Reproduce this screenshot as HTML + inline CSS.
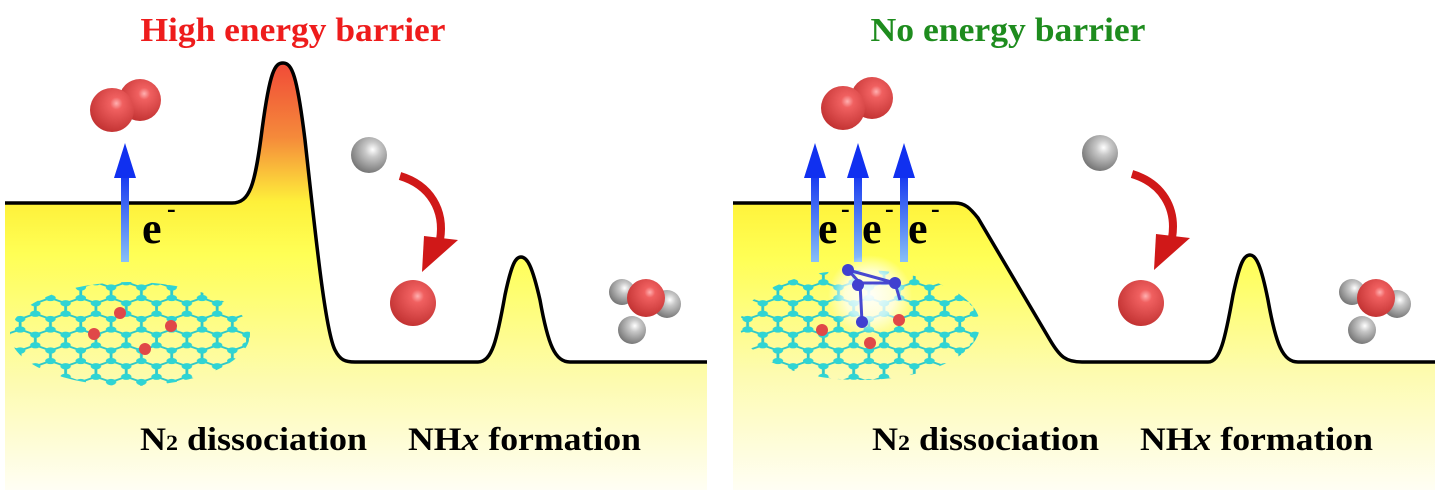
<!DOCTYPE html>
<html><head><meta charset="utf-8"><style>
html,body{margin:0;padding:0;background:#fff;}
svg{display:block}
</style></head><body>
<svg width="1440" height="502" viewBox="0 0 1440 502" xmlns="http://www.w3.org/2000/svg">
<defs>
<linearGradient id="fillY" gradientUnits="userSpaceOnUse" x1="0" y1="60" x2="0" y2="490">
<stop offset="0" stop-color="#f04838"/>
<stop offset="0.18" stop-color="#f58a3a"/>
<stop offset="0.33" stop-color="#fef03a"/>
<stop offset="0.45" stop-color="#ffff55"/>
<stop offset="0.75" stop-color="#fdfbb0"/>
<stop offset="1" stop-color="#fffef4"/>
</linearGradient>
<linearGradient id="fillY2" gradientUnits="userSpaceOnUse" x1="0" y1="200" x2="0" y2="490">
<stop offset="0" stop-color="#fff23a"/>
<stop offset="0.2" stop-color="#ffff55"/>
<stop offset="0.6" stop-color="#fdfbb0"/>
<stop offset="1" stop-color="#fffef4"/>
</linearGradient>
<linearGradient id="arr" x1="0" y1="1" x2="0" y2="0">
<stop offset="0" stop-color="#88c0f8"/>
<stop offset="1" stop-color="#1030f0"/>
</linearGradient>
<radialGradient id="red" cx="0.6" cy="0.35" r="0.7">
<stop offset="0" stop-color="#ffb0b0"/><stop offset="0.2" stop-color="#f06060"/><stop offset="1" stop-color="#c03030"/>
</radialGradient>
<radialGradient id="grey" cx="0.6" cy="0.35" r="0.7">
<stop offset="0" stop-color="#ffffff"/><stop offset="0.3" stop-color="#c8c8c8"/><stop offset="1" stop-color="#707070"/>
</radialGradient>
<radialGradient id="glow" cx="0.5" cy="0.5" r="0.5">
<stop offset="0" stop-color="#fff" stop-opacity="0.95"/><stop offset="0.6" stop-color="#fff" stop-opacity="0.7"/><stop offset="1" stop-color="#fff" stop-opacity="0"/>
</radialGradient>
<pattern id="hex" width="17.32" height="30" patternUnits="userSpaceOnUse" patternTransform="translate(5,4) scale(1.75,1.05)">
<path d="M8.66 0V10L0 15V25L8.66 30M8.66 10L17.32 15V25L8.66 30" stroke="#30c8c8" stroke-width="1.6" fill="none"/>
<g fill="#2fd4d4">
<circle cx="8.66" cy="10" r="3"/><circle cx="0" cy="15" r="3"/><circle cx="17.32" cy="15" r="3"/>
<circle cx="0" cy="25" r="3"/><circle cx="17.32" cy="25" r="3"/><circle cx="8.66" cy="0" r="3"/><circle cx="8.66" cy="30" r="3"/>
</g>
</pattern>
</defs>

<!-- LEFT PANEL -->
<path d="M5 203 H232 C250 203 255 185 262 130 C270 70 275 63 283 63 C292 63 297 75 305 140 C315 230 325 330 335 350 C340 360 345 362 355 362 H478 C492 362 497 340 505 295 C512 262 516 257 521 257 C527 257 532 265 540 300 C548 345 555 362 570 362 H707 V490 H5 Z" fill="url(#fillY)"/>
<path d="M5 203 H232 C250 203 255 185 262 130 C270 70 275 63 283 63 C292 63 297 75 305 140 C315 230 325 330 335 350 C340 360 345 362 355 362 H478 C492 362 497 340 505 295 C512 262 516 257 521 257 C527 257 532 265 540 300 C548 345 555 362 570 362 H707" fill="none" stroke="#000" stroke-width="3.5"/>

<!-- RIGHT PANEL -->
<path d="M733 203 H955 C965 203 970 208 978 218 L1050 340 C1060 357 1066 362 1082 362 H1208 C1220 362 1225 340 1233 295 C1240 262 1244 255 1250 255 C1256 255 1261 265 1268 300 C1276 345 1283 362 1298 362 H1435 V490 H733 Z" fill="url(#fillY2)"/>
<path d="M733 203 H955 C965 203 970 208 978 218 L1050 340 C1060 357 1066 362 1082 362 H1208 C1220 362 1225 340 1233 295 C1240 262 1244 255 1250 255 C1256 255 1261 265 1268 300 C1276 345 1283 362 1298 362 H1435" fill="none" stroke="#000" stroke-width="3.5"/>

<!-- titles -->
<text x="293" y="41" text-anchor="middle" font-family="Liberation Serif, serif" font-weight="bold" font-size="34" fill="#ee1c1c" textLength="305" lengthAdjust="spacingAndGlyphs">High energy barrier</text>
<text x="1008" y="41" text-anchor="middle" font-family="Liberation Serif, serif" font-weight="bold" font-size="34" fill="#1e8c1e" textLength="275" lengthAdjust="spacingAndGlyphs">No energy barrier</text>

<!-- labels -->
<g font-family="Liberation Serif, serif" font-weight="bold" font-size="33" fill="#000">
<text x="140" y="450" textLength="227" lengthAdjust="spacingAndGlyphs">N<tspan font-size="22">2</tspan> dissociation</text>
<text x="408" y="450" textLength="233" lengthAdjust="spacingAndGlyphs">NH<tspan font-style="italic">x</tspan> formation</text>
<text x="872" y="450" textLength="227" lengthAdjust="spacingAndGlyphs">N<tspan font-size="22">2</tspan> dissociation</text>
<text x="1140" y="450" textLength="233" lengthAdjust="spacingAndGlyphs">NH<tspan font-style="italic">x</tspan> formation</text>
</g>

<!-- left molecules -->
<circle cx="140" cy="100" r="21" fill="url(#red)"/>
<circle cx="112" cy="110" r="22" fill="url(#red)"/>
<rect x="121" y="170" width="8" height="92" fill="url(#arr)"/>
<polygon points="114,178 136,178 125,143" fill="#1030f0"/>
<text x="142" y="243" font-family="Liberation Serif, serif" font-weight="bold" font-size="44">e</text>
<text x="167" y="217" font-family="Liberation Serif, serif" font-weight="bold" font-size="26">-</text>
<circle cx="369" cy="155" r="18" fill="url(#grey)"/>
<path d="M400 176 C430 185 445 210 440 240" stroke="#d01818" stroke-width="8" fill="none"/>
<polygon points="424,236 458,240 422,272" fill="#d01818"/>
<circle cx="413" cy="303" r="23" fill="url(#red)"/>
<circle cx="622" cy="292" r="13" fill="url(#grey)"/>
<circle cx="667" cy="304" r="14" fill="url(#grey)"/>
<circle cx="646" cy="298" r="19" fill="url(#red)"/>
<circle cx="632" cy="330" r="14" fill="url(#grey)"/>
<ellipse cx="130" cy="334" rx="120" ry="52" fill="url(#hex)"/>
<g fill="#e04848"><circle cx="120" cy="313" r="6"/><circle cx="171" cy="326" r="6"/><circle cx="94" cy="334" r="6"/><circle cx="145" cy="349" r="6"/></g>

<!-- right molecules -->
<circle cx="872" cy="98" r="21" fill="url(#red)"/>
<circle cx="843" cy="108" r="22" fill="url(#red)"/>
<g>
<rect x="811" y="170" width="8" height="92" fill="url(#arr)"/>
<polygon points="804,178 826,178 815,143" fill="#1030f0"/>
<rect x="854" y="170" width="8" height="92" fill="url(#arr)"/>
<polygon points="847,178 869,178 858,143" fill="#1030f0"/>
<rect x="900" y="170" width="8" height="92" fill="url(#arr)"/>
<polygon points="893,178 915,178 904,143" fill="#1030f0"/>
</g>
<g font-family="Liberation Serif, serif" font-weight="bold">
<text x="818" y="243" font-size="44">e</text><text x="841" y="217" font-size="26">-</text>
<text x="862" y="243" font-size="44">e</text><text x="885" y="217" font-size="26">-</text>
<text x="908" y="243" font-size="44">e</text><text x="931" y="217" font-size="26">-</text>
</g>
<circle cx="1100" cy="153" r="18" fill="url(#grey)"/>
<path d="M1132 174 C1162 183 1177 208 1172 238" stroke="#d01818" stroke-width="8" fill="none"/>
<polygon points="1156,234 1190,238 1154,270" fill="#d01818"/>
<circle cx="1141" cy="303" r="23" fill="url(#red)"/>
<circle cx="1352" cy="292" r="13" fill="url(#grey)"/>
<circle cx="1397" cy="304" r="14" fill="url(#grey)"/>
<circle cx="1376" cy="298" r="19" fill="url(#red)"/>
<circle cx="1362" cy="330" r="14" fill="url(#grey)"/>
<ellipse cx="860" cy="325" rx="120" ry="55" fill="url(#hex)"/>
<ellipse cx="870" cy="295" rx="42" ry="40" fill="url(#glow)"/>
<g stroke="#4848d0" stroke-width="3" fill="none"><path d="M848 270 L895 283 L860 283 Z M895 283 L900 300 M860 283 L862 322"/></g>
<g fill="#4040d0"><circle cx="848" cy="270" r="6"/><circle cx="858" cy="285" r="6"/><circle cx="895" cy="283" r="6"/><circle cx="862" cy="322" r="6"/></g>
<g fill="#e04848"><circle cx="822" cy="330" r="6"/><circle cx="870" cy="343" r="6"/><circle cx="899" cy="320" r="6"/></g>
</svg>
</body></html>
